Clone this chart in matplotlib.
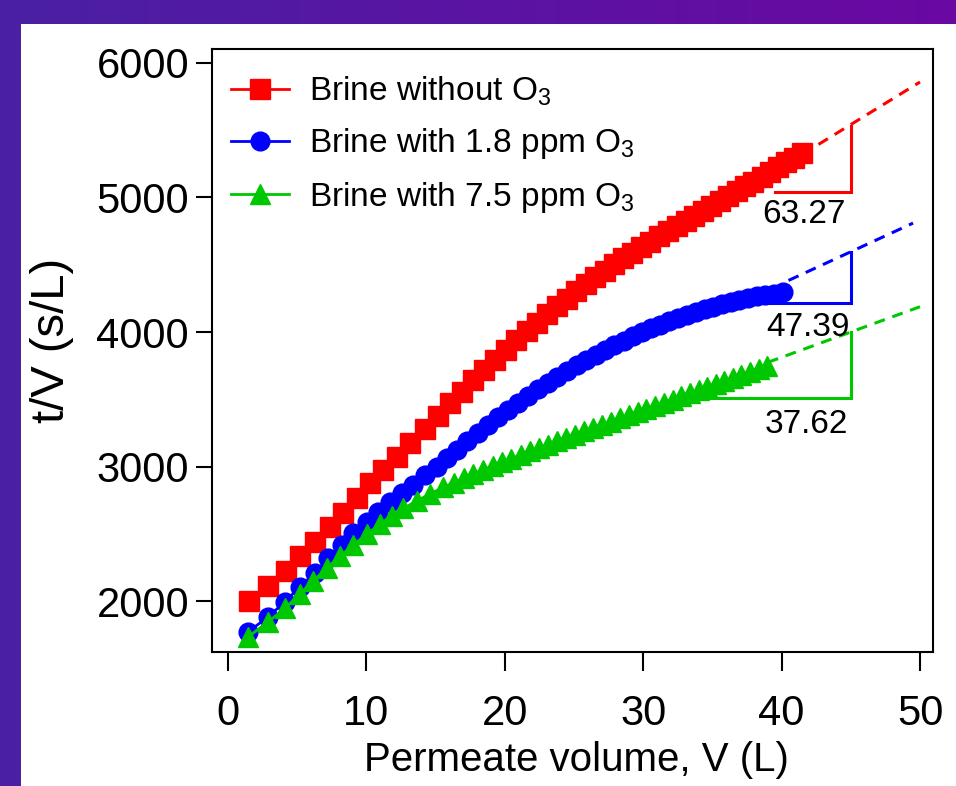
import numpy as np
import matplotlib
matplotlib.use("Agg")
import matplotlib.pyplot as plt
from matplotlib.patches import Rectangle

plt.rcParams['font.family'] = ['Liberation Sans', 'DejaVu Sans']
plt.rcParams['mathtext.fontset'] = 'custom'
plt.rcParams['mathtext.rm'] = 'Liberation Sans'
plt.rcParams['mathtext.it'] = 'Liberation Sans:italic'

# ---------------- data ----------------
red_v = [1.54, 2.91, 4.19, 5.2, 6.29, 7.37, 8.33, 9.3, 10.26, 11.22, 12.19, 13.15, 14.2, 15.2,
         16.05, 16.9, 17.72, 18.52, 19.3, 20.07, 20.83, 21.58, 22.32, 23.05, 23.77, 24.48,
         25.18, 25.87, 26.55, 27.23, 27.9, 28.56, 29.22, 29.87, 30.52, 31.16, 31.8, 32.43,
         33.06, 33.68, 34.3, 34.92, 35.53, 36.14, 36.75, 37.35, 37.95, 38.55, 39.15, 39.74,
         40.33, 40.92, 41.5]
red_y = [2002, 2114, 2225, 2337, 2441, 2552, 2652, 2763, 2875, 2974, 3073, 3172, 3280, 3378,
         3469, 3557, 3641, 3720, 3795, 3868, 3937, 4005, 4069, 4131, 4191, 4248,
         4303, 4356, 4406, 4455, 4502, 4547, 4591, 4632, 4672, 4711, 4749, 4787,
         4825, 4862, 4899, 4936, 4973, 5009, 5046, 5082, 5118, 5154, 5190, 5225,
         5261, 5296, 5331]

blue_v = [1.47, 2.91, 4.12, 5.2, 6.29, 7.25, 8.21, 9.06, 10.02, 10.86, 11.7, 12.55, 13.39,
          14.23, 15.08, 15.8, 16.55, 17.3, 18.04, 18.78, 19.51, 20.24, 20.96, 21.68, 22.39,
          23.1, 23.8, 24.5, 25.19, 25.88, 26.56, 27.24, 27.91, 28.58, 29.25, 29.91, 30.57,
          31.22, 31.87, 32.52, 33.16, 33.8, 34.44, 35.07, 35.7, 36.33, 36.95, 37.57, 38.19,
          38.8, 39.45, 40.1]
blue_y = [1772, 1883, 1995, 2106, 2210, 2318, 2416, 2503, 2590, 2664, 2738, 2801, 2862,
          2937, 2999, 3061, 3126, 3190, 3250, 3310, 3366, 3422, 3474, 3526, 3575,
          3622, 3667, 3711, 3752, 3793, 3831, 3868, 3902, 3936, 3968, 3998, 4027,
          4054, 4080, 4105, 4128, 4149, 4170, 4189, 4206, 4223, 4238, 4252, 4264,
          4276, 4286, 4296]

green_v = [1.47, 2.91, 4.12, 5.2, 6.17, 7.13, 8.09, 9.06, 10.02, 10.98, 11.83, 12.67, 13.63,
           14.6, 15.56, 16.3, 17.02, 17.73, 18.43, 19.12, 19.8, 20.48, 21.15, 21.82, 22.48,
           23.14, 23.8, 24.45, 25.1, 25.75, 26.4, 27.04, 27.68, 28.32, 28.96, 29.6, 30.23,
           30.86, 31.49, 32.12, 32.75, 33.38, 34.0, 34.62, 35.24, 35.86, 36.48, 37.1, 37.72,
           38.34, 38.96]
green_y = [1735, 1846, 1946, 2055, 2150, 2245, 2333, 2418, 2495, 2573, 2634, 2688, 2744,
           2797, 2845, 2880, 2913, 2945, 2975, 3004, 3032, 3059, 3086, 3112, 3138,
           3163, 3188, 3213, 3238, 3262, 3286, 3310, 3334, 3358, 3381, 3405, 3428,
           3451, 3475, 3498, 3521, 3544, 3567, 3589, 3612, 3635, 3657, 3680, 3703,
           3725, 3748]

labels = ['Brine without O$_\\mathregular{3}$',
          'Brine with 1.8 ppm O$_\\mathregular{3}$',
          'Brine with 7.5 ppm O$_\\mathregular{3}$']
colors = ['#ff0000', '#0000ff', '#00c800']
markers = ['s', 'o', '^']

# linear fits at the end of filtration (slope in s/L^2)
fit_slopes = [63.27, 47.39, 37.62]
fit_intercepts = [2695, 2464, 2307]
fit_start = [41.5, 40.5, 39.0]
fit_end = [50.0, 49.5, 50.0]

# slope triangles
tri_h_start = [39.5, 38.2, 34.1]
tri_h_y = [5040, 4216, 3509]
tri_x = [45.0, 45.0, 45.0]
tri_top = [5530, 4596, 4000]
slope_text = ['63.27', '47.39', '37.62']
slope_text_x = [41.6, 41.9, 41.8]
slope_text_y = [4877, 4037, 3316]

x_ticks = [0, 10, 20, 30, 40, 50]
y_ticks = [2000, 3000, 4000, 5000, 6000]

# ---------------- figure ----------------
W, H = 956, 786
fig = plt.figure(figsize=(W / 100, H / 100), dpi=100)

bg = fig.add_axes([0, 0, 1, 1], zorder=-10)
c0 = np.array([74, 32, 162]) / 255.0
c1 = np.array([106, 8, 162]) / 255.0
t = np.linspace(0, 1, 256)
grad = (1 - t)[None, :, None] * c0[None, None, :] + t[None, :, None] * c1[None, None, :]
grad = np.repeat(grad, 2, axis=0)
bg.imshow(grad, extent=(0, 1, 0, 1), aspect='auto')
bg.add_patch(Rectangle((21 / W, 0), 1, 1 - 24 / H, transform=bg.transAxes,
                       facecolor='white', edgecolor='none'))
bg.set_xlim(0, 1)
bg.set_ylim(0, 1)
bg.axis('off')

ax = fig.add_axes([212 / W, 1 - 652 / H, (933 - 212) / W, (652 - 49) / H])
ax.set_facecolor('none')

series = [(red_v, red_y), (blue_v, blue_y), (green_v, green_y)]
msizes = [14.5, 13.5, 15]
handles = []
for (v, y), c, m, lab, ms in zip(series, colors, markers, labels, msizes):
    h, = ax.plot(v, y, '-', marker=m, color=c, ms=ms, mec=c, mfc=c, lw=2, label=lab, zorder=3)
    handles.append(h)

for i in range(3):
    xs = np.array([fit_start[i], fit_end[i]])
    ax.plot(xs, fit_intercepts[i] + fit_slopes[i] * xs, color=colors[i], lw=2.2,
            dashes=(3.6, 2.6), zorder=2)
    ax.plot([tri_h_start[i], tri_x[i], tri_x[i]], [tri_h_y[i], tri_h_y[i], tri_top[i]],
            color=colors[i], lw=2.2, zorder=2, solid_joinstyle='miter')
    ax.text(slope_text_x[i], slope_text_y[i], slope_text[i], ha='center', va='center',
            fontsize=24, color='black', zorder=4)

ax.set_xlim(-1.156, 50.94)
ax.set_ylim(1621, 6104)
ax.set_xticks(x_ticks)
ax.set_yticks(y_ticks)
ax.tick_params(axis='y', direction='out', length=11.5, width=1.5, pad=5, labelsize=30)
ax.tick_params(axis='x', direction='out', length=14, width=1.5, pad=16, labelsize=30)
for s in ax.spines.values():
    s.set_linewidth(1.5)
    s.set_color('black')

leg = ax.legend(handles=handles, loc='upper left', bbox_to_anchor=(0.026, 0.958),
                frameon=False, fontsize=24, handlelength=1.75, handletextpad=0.6,
                labelspacing=0.555, borderpad=0, borderaxespad=0)

fig.text(52 / W, 1 - 340 / H, 't/V (s/L)', rotation=90, ha='center', va='center', fontsize=34)
fig.text(576 / W, 1 - 760 / H, 'Permeate volume, V (L)', ha='center', va='center', fontsize=29)

fig.savefig('out.png', dpi=100)
